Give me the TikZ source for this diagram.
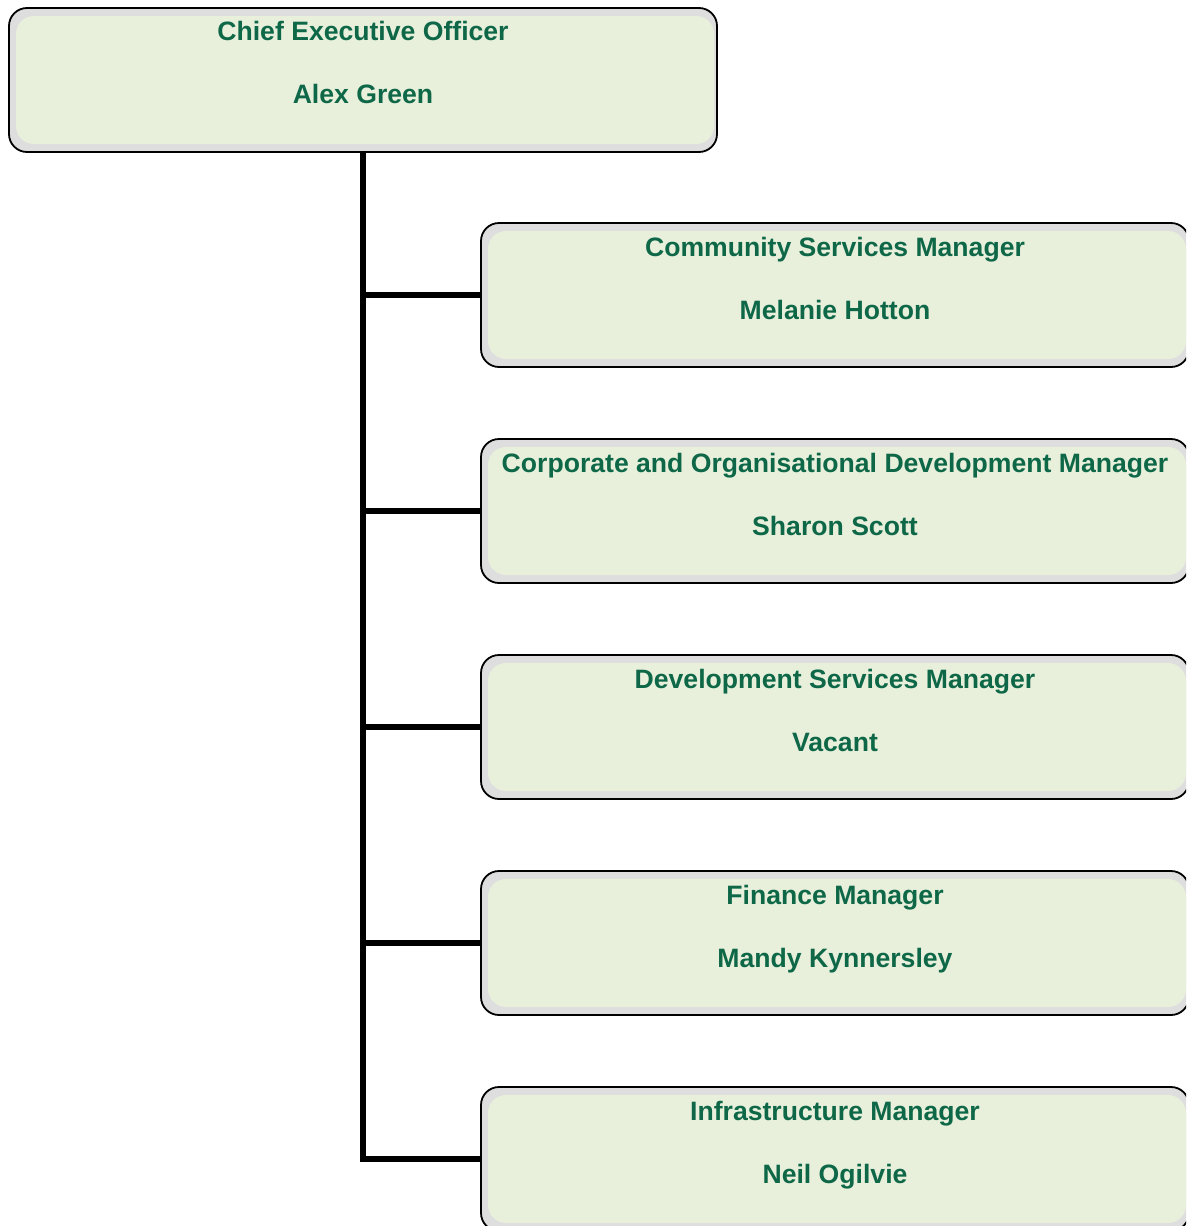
\documentclass[tikz,border=0pt]{standalone}
\usepackage{fontspec}
\setmainfont{Liberation Sans}
\definecolor{boxgray}{HTML}{DEDEDE}
\definecolor{boxgreen}{HTML}{E8F0DC}
\definecolor{txtgreen}{HTML}{0E6848}
\tikzset{
  x=1pt, y=-1pt,
  orgbox/.style={draw=black, line width=1.8pt, fill=boxgray, rounded corners=18pt,
    minimum width=708pt, minimum height=144pt, inner sep=0pt, outer sep=0pt,
    path picture={\fill[boxgreen] ([shift={(7pt,-8pt)}]path picture bounding box.north west) rectangle ([shift={(-3pt,8pt)}]path picture bounding box.south east);}},
  orgtxt/.style={anchor=base, inner sep=0pt, text=txtgreen, font=\fontsize{26.6}{30}\selectfont\bfseries},
  link/.style={line width=6pt, draw=black, line join=miter}
}
\begin{document}
\begin{tikzpicture}
\useasboundingbox (0,0) rectangle (1186,1226);
\clip (0,0) rectangle (1186,1226);
\node[orgbox] (ceo) at (363,80) {};
\node[orgtxt] (ceoT) at ([yshift=-32pt]ceo.north) {Chief Executive Officer};
\node[orgtxt] (ceoN) at ([yshift=-95pt]ceo.north) {Alex Green};

\node[orgbox] (b1) at (835,295) {};
\node[orgtxt] (b1T) at ([yshift=-33pt]b1.north) {Community Services Manager};
\node[orgtxt] (b1N) at ([yshift=-96pt]b1.north) {Melanie Hotton};

\node[orgbox] (b2) at (835,511) {};
\node[orgtxt] (b2T) at ([yshift=-33pt]b2.north) {Corporate and Organisational Development Manager};
\node[orgtxt] (b2N) at ([yshift=-96pt]b2.north) {Sharon Scott};

\node[orgbox] (b3) at (835,727) {};
\node[orgtxt] (b3T) at ([yshift=-33pt]b3.north) {Development Services Manager};
\node[orgtxt] (b3N) at ([yshift=-96pt]b3.north) {Vacant};

\node[orgbox] (b4) at (835,943) {};
\node[orgtxt] (b4T) at ([yshift=-33pt]b4.north) {Finance Manager};
\node[orgtxt] (b4N) at ([yshift=-96pt]b4.north) {Mandy Kynnersley};

\node[orgbox] (b5) at (835,1159) {};
\node[orgtxt] (b5T) at ([yshift=-33pt]b5.north) {Infrastructure Manager};
\node[orgtxt] (b5N) at ([yshift=-96pt]b5.north) {Neil Ogilvie};

\draw[link] (ceo.south) -- (ceo.south |- b5.west) -- (b5.west);
\foreach \b in {b1,b2,b3,b4}
  \draw[link] (ceo.south |- \b.west) -- (\b.west);
\end{tikzpicture}
\end{document}
